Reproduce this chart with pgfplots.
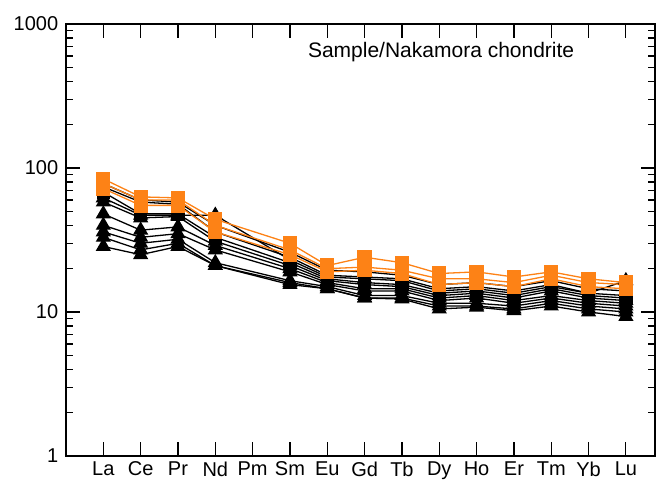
\documentclass[border=0pt]{standalone}
\usepackage{fontspec}
\setmainfont{Liberation Sans}
\usepackage{pgfplots}
\pgfplotsset{compat=1.18}
\definecolor{orng}{RGB}{253,130,22}
\begin{document}
\fontsize{20}{24}\selectfont
\begin{tikzpicture}
\begin{axis}[
  scale only axis, width=589pt, height=432pt,
  ymode=log, ymin=1, ymax=1000,
  xmin=0, xmax=15.78,
  xtick={1,...,15},
  xticklabels={La,Ce,Pr,Nd,Pm,Sm,Eu,Gd,Tb,Dy,Ho,Er,Tm,Yb,Lu},
  ytick={1,10,100,1000},
  yticklabels={1,10,100,1000},
  tick align=inside,
  major tick length=14pt, minor tick length=7pt,
  tick style={black, line width=1.2pt},
  axis line style={line width=1.6pt},
  /pgf/number format/assume math mode=true,
  tick label style={font=\fontsize{20}{24}\selectfont},
  xticklabel style={yshift=1pt},
  yticklabel style={xshift=-1pt},
  every axis plot/.append style={line width=1.3pt},
]
% black triangle series
\addplot[black, mark=triangle*, mark size=7.5pt] coordinates {(1,62)(2,47)(3,47)(4,47)(6,23)(7,17.5)(8,17)(9,16.5)(10,14)(11,14.5)(12,13.5)(13,15)(14,13.5)(15,16.5)};
\addplot[black, mark=triangle*, mark size=7.5pt] coordinates {(1,58)(2,45)(3,46)(4,31)(6,21)(7,16.5)(8,15.5)(9,15)(10,13)(11,13.5)(12,12.5)(13,14)(14,12.5)(15,12)};
\addplot[black, mark=triangle*, mark size=7.5pt] coordinates {(1,48)(2,37)(3,39)(4,29)(6,20)(7,16)(8,14.5)(9,14.5)(10,12.5)(11,13)(12,12)(13,13)(14,12)(15,11.5)};
\addplot[black, mark=triangle*, mark size=7.5pt] coordinates {(1,40)(2,33)(3,35)(4,27)(6,19)(7,15.5)(8,14)(9,14)(10,12)(11,12.5)(12,11.5)(13,12.5)(14,11.5)(15,11)};
\addplot[black, mark=triangle*, mark size=7.5pt] coordinates {(1,36)(2,30)(3,32)(4,22)(6,16.5)(7,15)(8,13)(9,13)(10,11.5)(11,11.5)(12,11)(13,12)(14,11)(15,10.5)};
\addplot[black, mark=triangle*, mark size=7.5pt] coordinates {(1,33)(2,27)(3,30)(4,21)(6,16)(7,14.5)(8,12.5)(9,12.5)(10,11)(11,11)(12,10.5)(13,11.5)(14,10.5)(15,10)};
\addplot[black, mark=triangle*, mark size=7.5pt] coordinates {(1,28.5)(2,25)(3,28.5)(4,21)(6,15.5)(7,14.5)(8,12.5)(9,12.3)(10,10.5)(11,10.8)(12,10.2)(13,11)(14,10)(15,9.3)};
% black square series
\addplot[black, mark=square*, mark size=6pt] coordinates {(1,78)(2,60)(3,58)(4,40)(6,26)(7,19.5)(8,19)(9,18)(10,15.5)(11,16)(12,15)(13,16.5)(14,14.5)(15,14)};
\addplot[black, mark=square*, mark size=6pt] coordinates {(1,74)(2,58)(3,56)(4,36)(6,24)(7,18)(8,17.5)(9,17)(10,14.5)(11,15)(12,14)(13,15.5)(14,13.5)(15,13)};
\addplot[black, mark=square*, mark size=6pt] coordinates {(1,68)(2,48)(3,48)(4,33)(6,22)(7,17)(8,16)(9,15.5)(10,13.5)(11,14)(12,13)(13,14.5)(14,13)(15,12.5)};
% orange square series
\addplot[orng, mark=square*, mark size=6.5pt] coordinates {(1,84)(2,63)(3,62)(4,44)(6,30)(7,21)(8,24)(9,22)(10,18.5)(11,19)(12,17.5)(13,19)(14,17)(15,16)};
\addplot[orng, mark=square*, mark size=6.5pt] coordinates {(1,78)(2,60)(3,60)(4,40)(6,27)(7,20)(8,20.5)(9,19.5)(10,17)(11,17)(12,16)(13,18)(14,16)(15,15.5)};
\addplot[orng, mark=square*, mark size=6.5pt] coordinates {(1,72)(2,55)(3,55)(4,36)(6,25)(7,19)(8,19.5)(9,18.5)(10,15.5)(11,16)(12,15)(13,17)(14,15)(15,14.5)};
\node[anchor=center, font=\fontsize{21}{25}\selectfont] at (axis cs:10.05,640) {Sample/Nakamora chondrite};
\end{axis}
\path[use as bounding box] (-66pt,-26pt) rectangle (591pt,456pt);
\end{tikzpicture}
\end{document}
